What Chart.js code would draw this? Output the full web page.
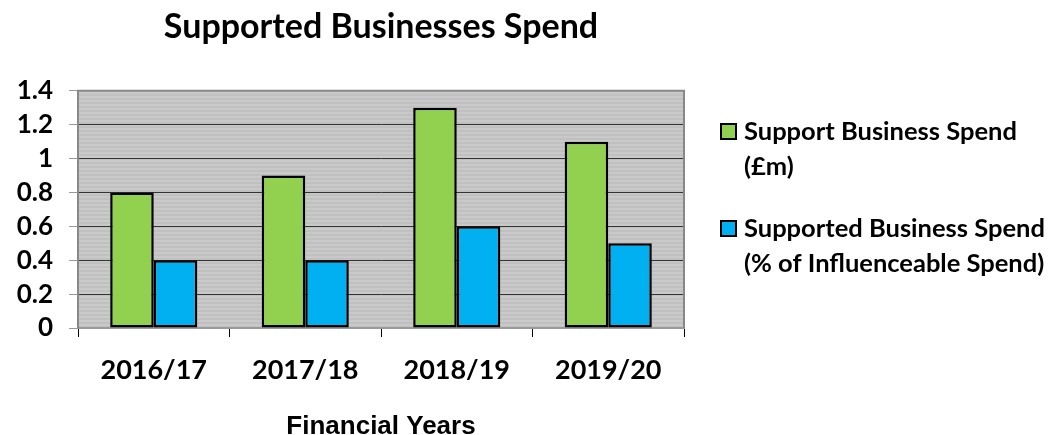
<!DOCTYPE html>
<html>
<head>
<meta charset="utf-8">
<script src="https://cdn.jsdelivr.net/npm/chart.js@4"></script>
<style>
  html, body { margin: 0; padding: 0; background: #fff; }
  #wrap { width: 1051px; height: 435px; }
</style>
</head>
<body>
<div id="wrap"><canvas id="chart" width="1051" height="435"></canvas></div>
<script>
// chart data
const years = ['2016/17', '2017/18', '2018/19', '2019/20'];
const spendMillions = [0.8, 0.9, 1.3, 1.1];
const spendPercent = [0.4, 0.4, 0.6, 0.5];
const seriesNames = [
  ['Support Business Spend', '(£m)'],
  ['Supported Business Spend', '(% of Influenceable Spend)']
];

const FONT = 'Lato, "Open Sans", sans-serif';

// striped grey fill for the plot area
function stripePattern(ctx) {
  const c = document.createElement('canvas');
  c.width = 4; c.height = 4;
  const p = c.getContext('2d');
  p.fillStyle = '#c0c0c0';
  p.fillRect(0, 0, 4, 4);
  p.fillStyle = '#c9c9c9';
  p.fillRect(0, 0, 4, 2);
  return ctx.createPattern(c, 'repeat');
}

const plotBackground = {
  id: 'plotBackground',
  beforeDraw(chart) {
    const { ctx, chartArea: a } = chart;
    ctx.save();
    ctx.fillStyle = stripePattern(ctx);
    ctx.fillRect(a.left, a.top, a.right - a.left, a.bottom - a.top);
    ctx.restore();
  },
  afterDatasetsDraw(chart) {
    // grey frame on top/left/right
    const { ctx, chartArea: a } = chart;
    ctx.save();
    ctx.strokeStyle = '#888';
    ctx.lineWidth = 2;
    ctx.beginPath();
    ctx.moveTo(a.left, a.bottom);
    ctx.lineTo(a.left, a.top);
    ctx.lineTo(a.right, a.top);
    ctx.lineTo(a.right, a.bottom);
    ctx.stroke();
    ctx.restore();
  }
};

// legend on the right with wrapped labels
const sideLegend = {
  id: 'sideLegend',
  afterDraw(chart) {
    const { ctx } = chart;
    const x = 721, box = 15, rows = [124, 221], lineGap = 35;
    ctx.save();
    chart.data.datasets.forEach((ds, i) => {
      const y = rows[i];
      ctx.fillStyle = ds.backgroundColor;
      ctx.fillRect(x, y, box, box);
      ctx.strokeStyle = '#000';
      ctx.lineWidth = 2;
      ctx.strokeRect(x, y, box, box);
      ctx.fillStyle = '#000';
      ctx.font = 'bold 25.5px ' + FONT;
      ctx.textBaseline = 'middle';
      ctx.textAlign = 'left';
      seriesNames[i].forEach((line, j) => {
        ctx.fillText(line, x + 23, y + 8 + j * lineGap);
      });
    });
    ctx.restore();
  }
};

new Chart(document.getElementById('chart'), {
  type: 'bar',
  data: {
    labels: years,
    datasets: [
      { label: seriesNames[0].join(' '), data: spendMillions, backgroundColor: '#92d050' },
      { label: seriesNames[1].join(' '), data: spendPercent, backgroundColor: '#00b0f0' }
    ]
  },
  options: {
    responsive: false,
    animation: false,
    layout: { padding: { left: 0, right: 367, top: 0, bottom: 0 } },
    datasets: {
      bar: {
        borderColor: '#000',
        borderWidth: 2.5,
        borderSkipped: false,
        categoryPercentage: 0.575,
        barPercentage: 1.0
      }
    },
    plugins: {
      legend: { display: false },
      tooltip: { enabled: false },
      title: {
        display: true,
        fullSize: false,
        text: 'Supported Businesses Spend',
        color: '#000',
        font: { family: FONT, size: 34, weight: 'bold' },
        padding: { top: 7, bottom: 43 }
      }
    },
    scales: {
      x: {
        afterFit(scale) { scale.height = 107; },
        grid: { display: true, drawOnChartArea: false, offset: true, color: '#000', tickLength: 9 },
        border: { color: '#999', width: 2 },
        ticks: { color: '#000', padding: 17, font: { family: FONT, size: 27, weight: 'bold' } },
        title: {
          display: true,
          text: 'Financial Years',
          color: '#000',
          font: { family: '"Liberation Sans", Arial, sans-serif', size: 26, weight: 'bold' },
          padding: { top: 0, bottom: -7 }
        }
      },
      y: {
        min: 0,
        max: 1.4,
        afterFit(scale) { scale.width = 78; },
        grid: { color: '#333', lineWidth: 1, tickLength: 9, tickColor: '#999' },
        border: { color: '#999', width: 2 },
        ticks: {
          stepSize: 0.2,
          autoSkip: false,
          color: '#000',
          padding: 16,
          font: { family: FONT, size: 26, weight: 'bold' },
          callback: v => Math.round(v * 10) / 10
        }
      }
    }
  },
  plugins: [plotBackground, sideLegend]
});
</script>
</body>
</html>
